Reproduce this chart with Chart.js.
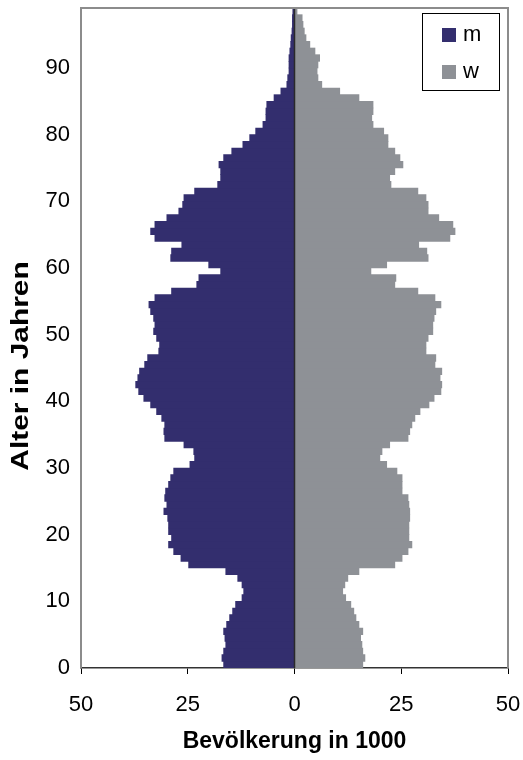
<!DOCTYPE html>
<html>
<head>
<meta charset="utf-8">
<script src="https://cdn.jsdelivr.net/npm/chart.js@4/dist/chart.umd.min.js"></script>
<style>
  html, body { margin: 0; padding: 0; background: #ffffff; }
  #wrap { width: 523px; height: 760px; }
</style>
</head>
<body>
<div id="wrap"><canvas id="c" width="523" height="760"></canvas></div>
<script>
// ---- data (population in 1000 by age) ----
const ages = [0,1,2,3,4,5,6,7,8,9,10,11,12,13,14,15,16,17,18,19,20,21,22,23,24,25,26,27,28,29,30,31,32,33,34,35,36,37,38,39,40,41,42,43,44,45,46,47,48,49,50,51,52,53,54,55,56,57,58,59,60,61,62,63,64,65,66,67,68,69,70,71,72,73,74,75,76,77,78,79,80,81,82,83,84,85,86,87,88,89,90,91,92,93,94,95,96,97,98];
const maleValues = [
  16.6,17.0,16.6,16.1,16.3,16.6,15.9,15.2,14.5,13.8,
  12.3,11.9,12.3,13.3,16.1,24.8,26.6,28.3,29.5,28.8,
  29.5,29.5,29.7,30.6,29.9,30.4,30.2,29.5,29.0,28.3,
  24.5,23.4,23.6,25.9,30.4,30.6,30.4,31.1,32.3,33.7,
  35.3,36.5,37.2,36.7,36.3,35.1,34.4,31.8,31.6,32.3,
  33.0,32.7,33.0,33.7,34.1,32.7,28.8,22.9,22.4,17.3,
  20.1,29.0,28.8,26.4,32.7,33.7,32.7,29.9,27.1,26.2,
  25.9,23.4,18.0,17.3,17.3,17.7,16.6,14.7,12.1,10.5,
  9.1,7.4,6.7,6.7,6.5,4.8,3.2,1.8,1.6,1.3,
  1.3,1.3,1.1,0.9,0.8,0.6,0.5,0.5,0.4
];
const femaleValues = [
  16.0,16.5,16.0,15.8,15.5,16.0,15.1,14.4,13.9,13.2,
  12.0,11.3,11.8,12.5,15.1,23.5,25.2,26.6,27.5,26.8,
  26.8,26.8,27.0,27.0,26.8,26.6,25.2,25.2,25.2,24.0,
  21.6,20.0,20.5,22.3,26.6,27.0,27.5,28.2,29.4,31.5,
  32.7,34.3,34.5,34.1,34.5,32.9,33.1,30.8,30.8,31.3,
  32.4,32.4,32.7,33.1,34.3,32.9,28.9,23.5,23.75,17.9,
  21.6,31.3,31.0,29.1,36.4,37.6,37.1,33.8,31.3,31.3,
  30.8,28.9,22.6,22.3,23.5,25.4,24.7,23.5,21.9,21.9,
  20.9,18.4,18.1,18.4,18.4,15.1,10.6,6.4,5.5,5.3,
  5.5,5.9,4.8,3.6,2.7,2.3,2.0,1.8,0.6
];
const seriesNames = ['m', 'w'];
const xTickValues = [-50, -25, 0, 25, 50];
const yTickValues = [0, 10, 20, 30, 40, 50, 60, 70, 80, 90];
const xTitle = 'Bevölkerung in 1000';
const yTitle = 'Alter in Jahren';

const maleColor = '#332E6E';
const femaleColor = '#8E9196';

const maleData = ages.map((a, i) => ({ x: -maleValues[i], y: a + 0.5 }));
const femaleData = ages.map((a, i) => ({ x: femaleValues[i], y: a + 0.5 }));

const FONT = "'Liberation Sans', Arial, Helvetica, sans-serif";

const framePlugin = {
  id: 'frame',
  afterDatasetsDraw(chart) {
    const { ctx, chartArea: a, scales: { x } } = chart;
    const x0 = x.getPixelForValue(0);
    ctx.save();
    ctx.strokeStyle = '#2a2a2a';
    ctx.lineWidth = 1.5;
    ctx.beginPath();
    ctx.moveTo(x0, a.top);
    ctx.lineTo(x0, a.bottom);
    ctx.stroke();
    ctx.strokeStyle = '#8c8c8c';
    ctx.lineWidth = 2;
    ctx.beginPath();
    ctx.moveTo(a.left, a.bottom);
    ctx.lineTo(a.left, a.top);
    ctx.lineTo(a.right, a.top);
    ctx.lineTo(a.right, a.bottom);
    ctx.stroke();
    ctx.restore();
  }
};

// vertical axis title (Excel-style, slightly stretched along its length)
const yTitlePlugin = {
  id: 'yTitle',
  afterDraw(chart, args, opts) {
    const { ctx } = chart;
    ctx.save();
    ctx.translate(opts.cx, opts.cy);
    ctx.rotate(-Math.PI / 2);
    ctx.scale(opts.stretch, 1);
    ctx.font = 'bold ' + opts.fontSize + 'px ' + FONT;
    ctx.fillStyle = '#000';
    ctx.textAlign = 'center';
    ctx.textBaseline = 'middle';
    ctx.fillText(opts.text, 0, 0);
    ctx.restore();
  }
};

const legendPlugin = {
  id: 'boxLegend',
  afterDraw(chart, args, opts) {
    const { ctx } = chart;
    ctx.save();
    ctx.fillStyle = '#ffffff';
    ctx.fillRect(opts.x, opts.y, opts.w, opts.h);
    ctx.strokeStyle = '#000000';
    ctx.lineWidth = 1;
    ctx.strokeRect(opts.x + 0.5, opts.y + 0.5, opts.w - 1, opts.h - 1);
    ctx.font = opts.fontSize + 'px ' + FONT;
    ctx.textBaseline = 'middle';
    ctx.textAlign = 'left';
    chart.data.datasets.forEach((ds, i) => {
      const cy = opts.y + opts.firstY + i * opts.gap;
      ctx.fillStyle = ds.backgroundColor;
      ctx.fillRect(opts.x + opts.boxX, cy - opts.box / 2, opts.box, opts.box);
      ctx.fillStyle = '#000000';
      ctx.fillText(ds.label, opts.x + opts.textX, cy);
    });
    ctx.restore();
  }
};

new Chart(document.getElementById('c'), {
  type: 'bar',
  data: {
    datasets: [
      { label: seriesNames[0], data: maleData, backgroundColor: maleColor, borderWidth: 0, barPercentage: 1, categoryPercentage: 1 },
      { label: seriesNames[1], data: femaleData, backgroundColor: femaleColor, borderWidth: 0, barPercentage: 1, categoryPercentage: 1 }
    ]
  },
  options: {
    responsive: false,
    animation: false,
    indexAxis: 'y',
    layout: { padding: { left: 0, right: 15, top: 8, bottom: 0 } },
    plugins: {
      legend: { display: false },
      tooltip: { enabled: false },
      boxLegend: { x: 422, y: 13, w: 78, h: 78, boxX: 20, box: 14, textX: 41, firstY: 22, gap: 37, fontSize: 22 },
      yTitle: { text: yTitle, cx: 22, cy: 366, fontSize: 23, stretch: 1.3 }
    },
    scales: {
      x: {
        type: 'linear', min: -50, max: 50, stacked: true, offset: false,
        afterBuildTicks: s => { s.ticks = xTickValues.map(v => ({ value: v })); },
        afterFit: s => { s.height = 92; s.paddingLeft = 0; s.paddingRight = 0; },
        ticks: { callback: v => Math.abs(v), color: '#000', font: { family: FONT, size: 22 }, padding: 18, maxRotation: 0, autoSkip: false },
        grid: { display: true, drawOnChartArea: false, drawTicks: true, tickLength: 6, color: '#000', lineWidth: 1, offset: false },
        border: { display: true, color: '#333', width: 1.5 },
        title: { display: true, text: xTitle, color: '#000', font: { family: FONT, size: 23, weight: 'bold' }, padding: { top: 0, bottom: 5 } }
      },
      y: {
        type: 'linear', min: 0, max: 99, stacked: true, offset: false,
        afterBuildTicks: s => { s.ticks = yTickValues.map(v => ({ value: v })); },
        afterFit: s => { s.width = 81; s.paddingTop = 0; s.paddingBottom = 0; },
        ticks: { color: '#000', font: { family: FONT, size: 22 }, padding: 11, autoSkip: false },
        grid: { display: false, drawTicks: false, offset: false },
        border: { display: false },
        title: { display: false }
      }
    }
  },
  plugins: [framePlugin, yTitlePlugin, legendPlugin]
});
</script>
</body>
</html>
